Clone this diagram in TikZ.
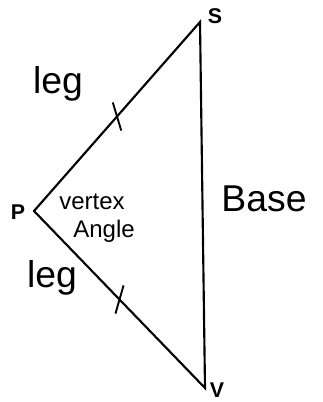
\documentclass[tikz,border=0pt]{standalone}
\usepackage{fontspec}
\setmainfont{Liberation Sans}
\usepackage{tikz}
\usetikzlibrary{calc}

\begin{document}
\begin{tikzpicture}[
  x=0.75pt, y=-0.75pt,
  side/.style={line width=1.6pt},
  tickmark/.style={line width=1.4pt},
  vertexlabel/.style={font=\bfseries\fontsize{16}{18}\selectfont, inner sep=0pt},
  word/.style={font=\fontsize{28}{30}\selectfont, inner sep=0pt},
  smallword/.style={font=\fontsize{18}{20}\selectfont, inner sep=0pt}
]
\useasboundingbox (0,0) rectangle (323,402);

\coordinate (S) at (200,22);
\coordinate (P) at (34,211);
\coordinate (V) at (205,388);

\node (labS) [vertexlabel] at (215,16) {S};
\node (labP) [vertexlabel] at (18,212) {P};
\node (labV) [vertexlabel] at (217,390) {V};

\draw [side] (S) -- (P) -- (V) -- cycle;

\coordinate (mPS) at ($(P)!0.5!(S)$);
\coordinate (mPV) at ($(P)!0.5!(V)$);
\draw [tickmark] ($(mPS)!11pt!58:(S)$) -- ($(mPS)!11pt!-122:(S)$);
\draw [tickmark] ($(mPV)!11pt!-60:(V)$) -- ($(mPV)!11pt!120:(V)$);

\node (legtop) [word] at (58,84) {leg};
\node (legbot) [word] at (52,278) {leg};
\node (vtx) [smallword] at (92,202) {vertex};
\node (ang) [smallword] at (104,231) {Angle};
\node (base) [word] at (264,199) {Base};

\end{tikzpicture}
\end{document}
